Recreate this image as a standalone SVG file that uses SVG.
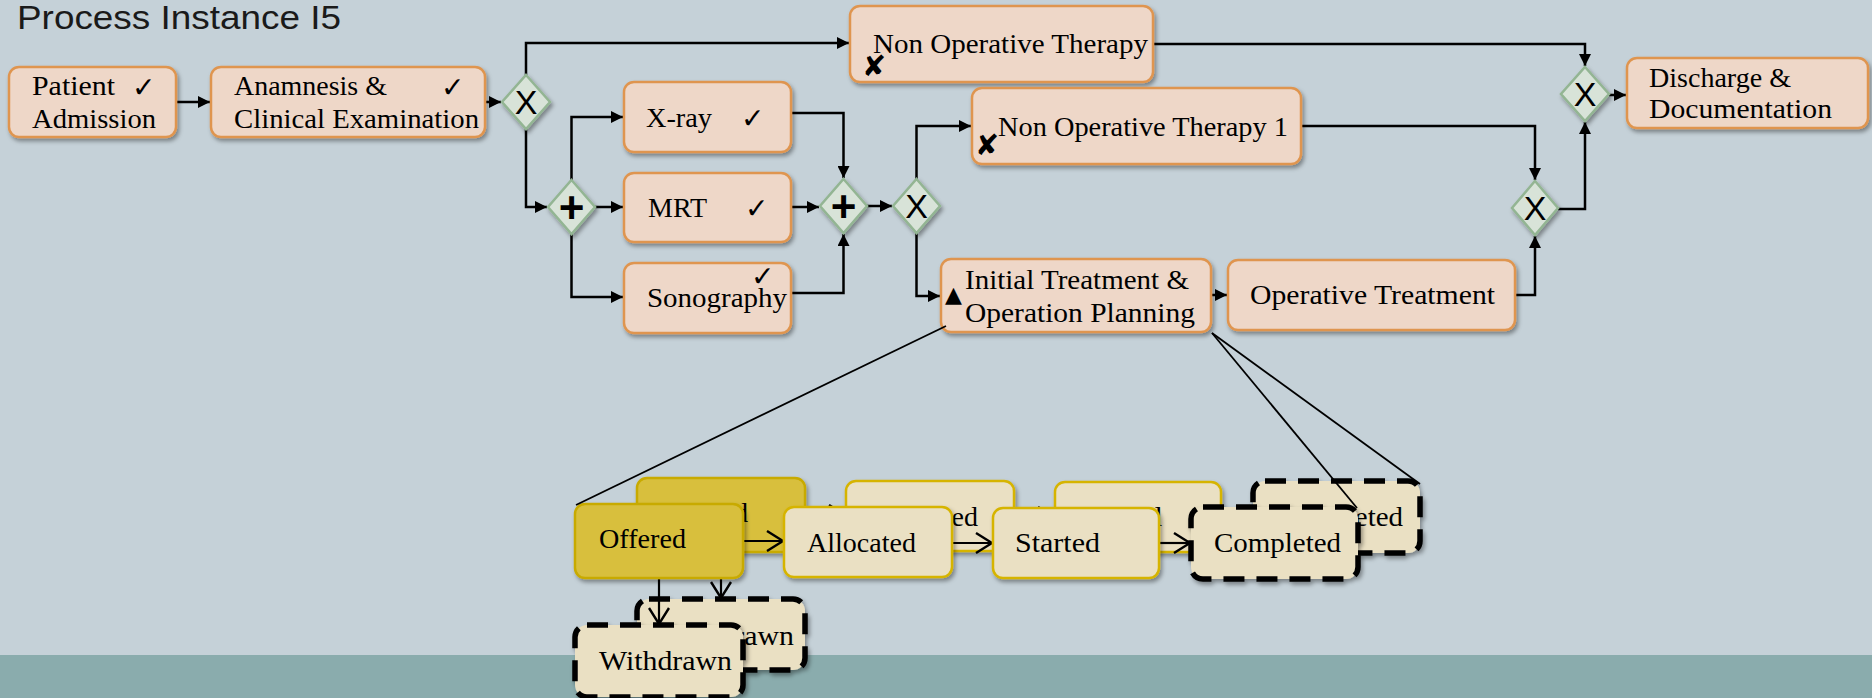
<svg xmlns="http://www.w3.org/2000/svg" width="1872" height="698" viewBox="0 0 1872 698">
  <defs>
    <filter id="shadow" x="-10%" y="-10%" width="130%" height="140%">
      <feDropShadow dx="2" dy="3" stdDeviation="2.2" flood-color="#000" flood-opacity="0.38"/>
    </filter>
    <marker id="arrow" markerUnits="userSpaceOnUse" viewBox="0 0 12 12" refX="12" refY="6" markerWidth="12" markerHeight="12" orient="auto">
      <path d="M0,0 L12,6 L0,12 z" fill="#000"/>
    </marker>
    <marker id="open" markerUnits="userSpaceOnUse" viewBox="0 0 18 22" refX="17" refY="11" markerWidth="18" markerHeight="22" orient="auto">
      <path d="M1,1 L17,11 L1,21" fill="none" stroke="#000" stroke-width="2.4"/>
    </marker>
  </defs>
  <style>
    .task { fill: #eed7c8; stroke: #df9550; stroke-width: 2.5; filter: url(#shadow); }
    .gw { fill: #d8e3d8; stroke: #93b593; stroke-width: 2.5; filter: url(#shadow); }
    .gwt { font-family: "Liberation Sans", Arial, sans-serif; font-size: 34px; fill: #000; text-anchor: middle; }
    .gwp { font-family: "Liberation Sans", Arial, sans-serif; font-size: 44px; font-weight: bold; fill: #000; text-anchor: middle; }
    .lbl { font-family: "Liberation Serif", "Times New Roman", serif; font-size: 27px; fill: #000; }
    .sym { font-family: "DejaVu Sans", sans-serif; fill: #000; }
    .chk { font-family: "DejaVu Sans", sans-serif; font-size: 28px; fill: #000; }
    .flow { fill: none; stroke: #000; stroke-width: 2.5; }
    .link { fill: none; stroke: #000; stroke-width: 1.8; }
    .st-dark { fill: #d8bf3e; stroke: #c8aa00; stroke-width: 2.5; filter: url(#shadow); }
    .st-light { fill: #eae0c3; stroke: #d6b400; stroke-width: 2.5; filter: url(#shadow); }
    .st-dash { fill: #eae0c3; stroke: #000; stroke-width: 5.5; stroke-dasharray: 21 12; filter: url(#shadow); }
    .lc { fill: none; stroke: #000; stroke-width: 2.2; }
  </style>

  <!-- page background and footer band -->
  <rect x="0" y="0" width="1872" height="698" fill="#c5d1d8"/>
  <rect x="0" y="655" width="1872" height="43" fill="#8aacad"/>

  <text x="17" y="29" font-family="Liberation Sans, Arial, sans-serif" font-size="33" fill="#1a1a1a" textLength="324" lengthAdjust="spacingAndGlyphs">Process Instance I5</text>

  <!-- sequence flows -->
  <g id="connectors">
    <path class="flow" d="M176,102 H210" marker-end="url(#arrow)"/>
    <path class="flow" d="M485,102 H501" marker-end="url(#arrow)"/>
    <path class="flow" d="M526,75 V43 H849" marker-end="url(#arrow)"/>
    <path class="flow" d="M526,129 V207 H547" marker-end="url(#arrow)"/>
    <path class="flow" d="M571.5,180 V117 H623" marker-end="url(#arrow)"/>
    <path class="flow" d="M595,207 H623" marker-end="url(#arrow)"/>
    <path class="flow" d="M571.5,234 V297 H623" marker-end="url(#arrow)"/>
    <path class="flow" d="M791,113 H843.5 V178" marker-end="url(#arrow)"/>
    <path class="flow" d="M791,207 H819" marker-end="url(#arrow)"/>
    <path class="flow" d="M791,293 H843.5 V234" marker-end="url(#arrow)"/>
    <path class="flow" d="M867,206 H892" marker-end="url(#arrow)"/>
    <path class="flow" d="M916.5,179 V126 H971" marker-end="url(#arrow)"/>
    <path class="flow" d="M916.5,233 V296 H940" marker-end="url(#arrow)"/>
    <path class="flow" d="M1153,44 H1585 V66" marker-end="url(#arrow)"/>
    <path class="flow" d="M1301,126 H1535 V180" marker-end="url(#arrow)"/>
    <path class="flow" d="M1211,295 H1227" marker-end="url(#arrow)"/>
    <path class="flow" d="M1515,295 H1535 V236" marker-end="url(#arrow)"/>
    <path class="flow" d="M1558,209 H1585 V122" marker-end="url(#arrow)"/>
    <path class="flow" d="M1609,95 H1626" marker-end="url(#arrow)"/>
  </g>

  <!-- process tasks -->
  <g id="patient-admission">
    <rect class="task" x="9" y="67" width="167" height="70" rx="10"/>
    <text class="lbl" x="32" y="95" textLength="83" lengthAdjust="spacingAndGlyphs">Patient</text>
    <text class="lbl" x="32" y="128" textLength="124" lengthAdjust="spacingAndGlyphs">Admission</text>
    <text class="chk" x="132" y="97">✓</text>
  </g>
  <g id="anamnesis">
    <rect class="task" x="211" y="67" width="274" height="70" rx="10"/>
    <text class="lbl" x="234" y="95" textLength="153" lengthAdjust="spacingAndGlyphs">Anamnesis &amp;</text>
    <text class="lbl" x="234" y="128" textLength="245" lengthAdjust="spacingAndGlyphs">Clinical Examination</text>
    <text class="chk" x="441" y="97">✓</text>
  </g>
  <g id="gw-xor-split-1">
    <path class="gw" d="M526,75 L550,102 L526,129 L502,102 z"/>
    <text class="gwt" x="526" y="114">X</text>
  </g>
  <g id="non-operative-therapy">
    <rect class="task" x="850" y="6" width="303" height="76" rx="10"/>
    <text class="lbl" x="873" y="53" font-size="28" textLength="275" lengthAdjust="spacingAndGlyphs">Non Operative Therapy</text>
    <text class="sym" x="862" y="76" font-size="29">✘</text>
  </g>
  <g id="gw-and-split">
    <path class="gw" d="M571.5,180 L595,207 L571.5,234 L548,207 z"/>
    <text class="gwp" x="571.5" y="223">+</text>
  </g>
  <g id="x-ray">
    <rect class="task" x="624" y="82" width="167" height="70" rx="10"/>
    <text class="lbl" x="646" y="127" font-size="28" textLength="66" lengthAdjust="spacingAndGlyphs">X-ray</text>
    <text class="chk" x="741" y="128">✓</text>
  </g>
  <g id="mrt">
    <rect class="task" x="624" y="173" width="167" height="69" rx="10"/>
    <text class="lbl" x="648" y="217" font-size="28" textLength="59" lengthAdjust="spacingAndGlyphs">MRT</text>
    <text class="chk" x="745" y="218">✓</text>
  </g>
  <g id="sonography">
    <rect class="task" x="624" y="263" width="167" height="70" rx="10"/>
    <text class="lbl" x="647" y="307" font-size="28" textLength="140" lengthAdjust="spacingAndGlyphs">Sonography</text>
    <text class="chk" x="751" y="286">✓</text>
  </g>
  <g id="gw-and-join">
    <path class="gw" d="M843.5,179 L867,206 L843.5,233 L820,206 z"/>
    <text class="gwp" x="843.5" y="222">+</text>
  </g>
  <g id="gw-xor-split-2">
    <path class="gw" d="M916.5,179 L940,206 L916.5,233 L893,206 z"/>
    <text class="gwt" x="916.5" y="218">X</text>
  </g>
  <g id="non-operative-therapy-1">
    <rect class="task" x="972" y="88" width="329" height="76" rx="10"/>
    <text class="lbl" x="998" y="136" font-size="28" textLength="290" lengthAdjust="spacingAndGlyphs">Non Operative Therapy 1</text>
    <text class="sym" x="975" y="155" font-size="29">✘</text>
  </g>
  <g id="initial-treatment">
    <rect class="task" x="941" y="259" width="270" height="73" rx="10"/>
    <text class="lbl" x="965" y="289" font-size="28" textLength="224" lengthAdjust="spacingAndGlyphs">Initial Treatment &amp;</text>
    <text class="lbl" x="965" y="322" font-size="28" textLength="230" lengthAdjust="spacingAndGlyphs">Operation Planning</text>
    <text class="sym" x="945" y="302" font-size="22">▲</text>
  </g>
  <g id="operative-treatment">
    <rect class="task" x="1228" y="260" width="287" height="70" rx="10"/>
    <text class="lbl" x="1250" y="304" font-size="28" textLength="245" lengthAdjust="spacingAndGlyphs">Operative Treatment</text>
  </g>
  <g id="gw-xor-join-2">
    <path class="gw" d="M1535,181 L1558,208 L1535,235 L1512,208 z"/>
    <text class="gwt" x="1535" y="220">X</text>
  </g>
  <g id="gw-xor-join-1">
    <path class="gw" d="M1585,67 L1609,94 L1585,121 L1561,94 z"/>
    <text class="gwt" x="1585" y="106">X</text>
  </g>
  <g id="discharge">
    <rect class="task" x="1627" y="58" width="241" height="70" rx="10"/>
    <text class="lbl" x="1649" y="87" font-size="28" textLength="142" lengthAdjust="spacingAndGlyphs">Discharge &amp;</text>
    <text class="lbl" x="1649" y="118" font-size="28" textLength="183" lengthAdjust="spacingAndGlyphs">Documentation</text>
  </g>

  <!-- work item life cycle, rear copy -->
  <g id="lifecycle-rear">
    <g id="rear-transitions">
      <path class="lc" d="M806,515 H845" marker-end="url(#open)"/>
      <path class="lc" d="M1014,517 H1054" marker-end="url(#open)"/>
      <path class="lc" d="M1221,517 H1252" marker-end="url(#open)"/>
      <path class="lc" d="M721,553 V598" marker-end="url(#open)"/>
    </g>
    <g id="rear-offered">
      <rect class="st-dark" x="637" y="478" width="168" height="74" rx="10"/>
      <text class="lbl" x="661" y="522" textLength="87" lengthAdjust="spacingAndGlyphs">Offered</text>
    </g>
    <g id="rear-allocated">
      <rect class="st-light" x="846" y="481" width="168" height="70" rx="10"/>
      <text class="lbl" x="869" y="526" textLength="109" lengthAdjust="spacingAndGlyphs">Allocated</text>
    </g>
    <g id="rear-started">
      <rect class="st-light" x="1055" y="482" width="166" height="70" rx="10"/>
      <text class="lbl" x="1077" y="526" textLength="85" lengthAdjust="spacingAndGlyphs">Started</text>
    </g>
    <g id="rear-completed">
      <rect class="st-dash" x="1253" y="481" width="167" height="72" rx="12"/>
      <text class="lbl" x="1276" y="526" textLength="127" lengthAdjust="spacingAndGlyphs">Completed</text>
    </g>
    <g id="rear-withdrawn">
      <rect class="st-dash" x="637" y="599" width="168" height="71" rx="12"/>
      <text class="lbl" x="661" y="645" textLength="133" lengthAdjust="spacingAndGlyphs">Withdrawn</text>
    </g>
  </g>

  <!-- work item life cycle, front copy -->
  <g id="lifecycle-front">
    <g id="front-transitions">
      <path class="lc" d="M743,541 H783" marker-end="url(#open)"/>
      <path class="lc" d="M952,543 H992" marker-end="url(#open)"/>
      <path class="lc" d="M1159,543 H1190" marker-end="url(#open)"/>
      <path class="lc" d="M659,579 V624" marker-end="url(#open)"/>
    </g>
    <g id="offered">
      <rect class="st-dark" x="575" y="504" width="168" height="74" rx="10"/>
      <text class="lbl" x="599" y="548" textLength="87" lengthAdjust="spacingAndGlyphs">Offered</text>
    </g>
    <g id="allocated">
      <rect class="st-light" x="784" y="507" width="168" height="70" rx="10"/>
      <text class="lbl" x="807" y="552" textLength="109" lengthAdjust="spacingAndGlyphs">Allocated</text>
    </g>
    <g id="started">
      <rect class="st-light" x="993" y="508" width="166" height="70" rx="10"/>
      <text class="lbl" x="1015" y="552" textLength="85" lengthAdjust="spacingAndGlyphs">Started</text>
    </g>
    <g id="completed">
      <rect class="st-dash" x="1191" y="507" width="167" height="72" rx="12"/>
      <text class="lbl" x="1214" y="552" textLength="127" lengthAdjust="spacingAndGlyphs">Completed</text>
    </g>
    <g id="withdrawn">
      <rect class="st-dash" x="575" y="625" width="168" height="72" rx="12"/>
      <text class="lbl" x="599" y="670" textLength="133" lengthAdjust="spacingAndGlyphs">Withdrawn</text>
    </g>
  </g>

  <!-- links from the task to its work item states -->
  <g id="state-links">
    <path class="link" d="M946,326 L576,505"/>
    <path class="link" d="M1212,333 L1357,508"/>
    <path class="link" d="M1212,333 L1420,484"/>
  </g>
</svg>
